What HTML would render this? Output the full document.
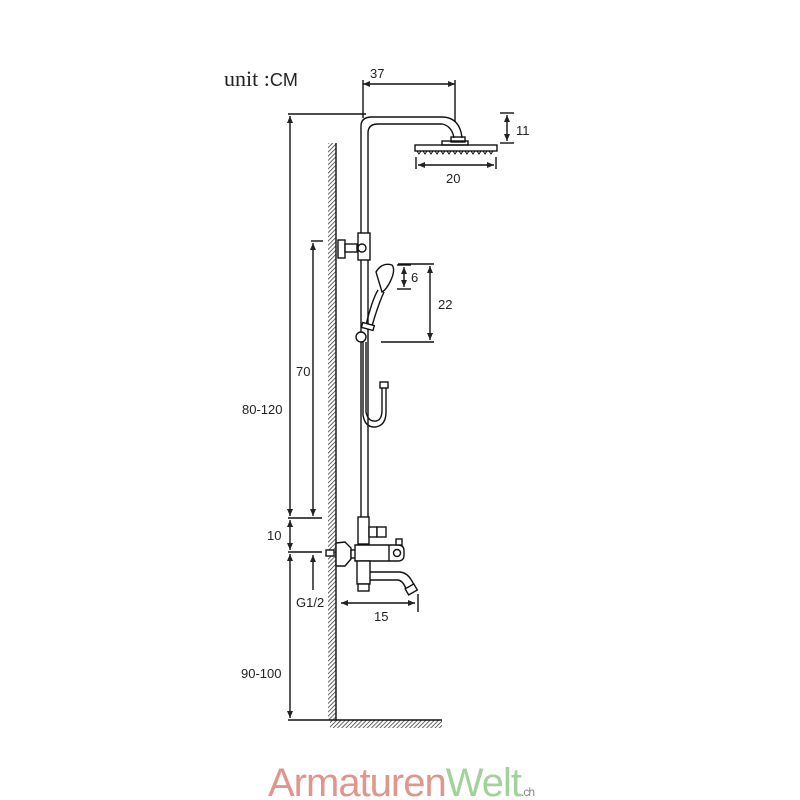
<!DOCTYPE html>
<html><head><meta charset="utf-8"><style>
body{margin:0;background:#fff;width:800px;height:800px;overflow:hidden}
svg{display:block}
text{font-family:"Liberation Sans","DejaVu Sans",sans-serif;fill:#222}
</style></head><body>
<svg width="800" height="800" viewBox="0 0 800 800" xmlns="http://www.w3.org/2000/svg">
<defs>
<pattern id="h" width="3" height="3" patternUnits="userSpaceOnUse" patternTransform="rotate(45)">
<rect width="3" height="3" fill="#fff"/><line x1="0" y1="0" x2="0" y2="3" stroke="#333" stroke-width="1.5"/></pattern>
<marker id="a" markerWidth="8" markerHeight="8" refX="7" refY="4" orient="auto-start-reverse" markerUnits="userSpaceOnUse"><path d="M0,1 L7,4 L0,7 Z" fill="#222"/></marker>
</defs>
<g stroke="#111" fill="none" stroke-width="1.4">
<rect x="328" y="143" width="8" height="577" fill="url(#h)" stroke="none"/>
<line x1="336" y1="143" x2="336" y2="720"/>
<rect x="330" y="720" width="112" height="8" fill="url(#h)" stroke="none"/>
<line x1="288" y1="720" x2="442" y2="720"/>
<line x1="363" y1="84" x2="455" y2="84" marker-start="url(#a)" marker-end="url(#a)"/>
<line x1="363" y1="80" x2="363" y2="118"/>
<line x1="455" y1="80" x2="455" y2="122"/>
<line x1="288" y1="114" x2="366" y2="114"/>
<path d="M361,525 L361,126 Q361,117 372,117 L443,117 Q460,118 462,138"/>
<path d="M368,525 L368,133 Q368,124 378,124 L442,124 Q452,126 454,138"/>
<rect x="451" y="137" width="14" height="5"/>
<rect x="442" y="141" width="26" height="4"/>
<rect x="415" y="145" width="82" height="6"/>
<path d="M417,151 l2,3 l2,-3 m2,0 l2,3 l2,-3 m2,0 l2,3 l2,-3 m2,0 l2,3 l2,-3 m2,0 l2,3 l2,-3 m2,0 l2,3 l2,-3 m2,0 l2,3 l2,-3 m2,0 l2,3 l2,-3 m2,0 l2,3 l2,-3 m2,0 l2,3 l2,-3 m2,0 l2,3 l2,-3 m2,0 l2,3 l2,-3 m2,0 l2,3 l2,-3" stroke-width="1"/>
<line x1="500" y1="113" x2="514" y2="113"/><line x1="500" y1="143" x2="514" y2="143"/>
<line x1="507" y1="115" x2="507" y2="141" marker-start="url(#a)" marker-end="url(#a)"/>
<line x1="416" y1="157" x2="416" y2="169"/><line x1="496" y1="157" x2="496" y2="169"/>
<line x1="418" y1="165" x2="494" y2="165" marker-start="url(#a)" marker-end="url(#a)"/>
<line x1="290" y1="116" x2="290" y2="516" marker-start="url(#a)" marker-end="url(#a)"/>
<line x1="311" y1="241" x2="323" y2="241"/>
<line x1="313" y1="243" x2="313" y2="516" marker-start="url(#a)" marker-end="url(#a)"/>
<line x1="288" y1="518" x2="322" y2="518"/>
<line x1="290" y1="520" x2="290" y2="550" marker-start="url(#a)" marker-end="url(#a)"/>
<line x1="288" y1="552" x2="322" y2="552"/>
<line x1="290" y1="554" x2="290" y2="718" marker-start="url(#a)" marker-end="url(#a)"/>
<line x1="313" y1="590" x2="313" y2="555" marker-end="url(#a)"/>
<rect x="338" y="240" width="7" height="18" fill="#fff"/>
<rect x="345" y="244" width="12" height="8" fill="#fff"/>
<rect x="358" y="233" width="12" height="27" fill="#fff"/>
<circle cx="362" cy="248" r="4" fill="#fff"/>
<path d="M376,272 Q382,262 392,265 Q396,270 390,282 Q386,290 382,292 Z" fill="#fff"/>
<path d="M378,290 Q372,300 366,325 M384,292 Q378,305 372,326"/>
<rect x="362" y="324" width="12" height="5" transform="rotate(15 368 326)" fill="#fff"/>
<circle cx="361" cy="337" r="5" fill="#fff"/>
<path d="M363,342 L363,415 Q365,428 376,427 Q386,425 386,412 L386,388"/>
<path d="M366,342 L366,412 Q368,422 376,421 Q382,420 382,410 L382,388"/>
<rect x="380" y="382" width="8" height="6" fill="#fff"/>
<line x1="397" y1="265" x2="411" y2="265"/><line x1="397" y1="289" x2="411" y2="289"/>
<line x1="404" y1="267" x2="404" y2="287" marker-start="url(#a)" marker-end="url(#a)"/>
<line x1="398" y1="264" x2="434" y2="264"/><line x1="381" y1="342" x2="434" y2="342"/>
<line x1="430" y1="266" x2="430" y2="340" marker-start="url(#a)" marker-end="url(#a)"/>
<rect x="358" y="517" width="11" height="27" fill="#fff"/>
<rect x="369" y="527" width="8" height="10" fill="#fff"/>
<rect x="377" y="527" width="9" height="10" fill="#fff"/>
<rect x="326" y="550" width="8" height="6" fill="#fff"/>
<path d="M336,543 L345,542 L351,548 L351,559 L345,566 L336,566 Z" fill="#fff"/>
<rect x="351" y="550" width="5" height="8" fill="#fff"/>
<path d="M355,545 L398,545 Q404,545 404,551 L404,555 Q404,561 398,561 L355,561 Z" fill="#fff"/>
<line x1="389" y1="545" x2="389" y2="561"/>
<circle cx="397" cy="553" r="3.5"/>
<rect x="396" y="539" width="6" height="6" fill="#fff"/>
<rect x="357" y="561" width="13" height="23" fill="#fff"/>
<rect x="358" y="584" width="11" height="7" fill="#fff"/>
<path d="M370,572 L400,572 Q410,573 415,588 M370,580 L398,580 Q404,581 407,592"/>
<rect x="406" y="586" width="10" height="7" transform="rotate(-30 411 589)" fill="#fff"/>
<line x1="341" y1="603" x2="415" y2="603" marker-start="url(#a)" marker-end="url(#a)"/>
<line x1="418" y1="594" x2="418" y2="612"/>
</g>
<text x="224" y="86" font-size="22" style="font-family:'Liberation Serif',serif">unit :<tspan style="font-family:'Liberation Sans',sans-serif" font-size="18">CM</tspan></text>
<text x="370" y="78" font-size="13">37</text>
<text x="516" y="135" font-size="13">11</text>
<text x="446" y="183" font-size="13">20</text>
<text x="411" y="282" font-size="13">6</text>
<text x="438" y="309" font-size="13">22</text>
<text x="296" y="376" font-size="13">70</text>
<text x="242" y="414" font-size="13">80-120</text>
<text x="267" y="540" font-size="13">10</text>
<text x="296" y="607" font-size="13">G1/2</text>
<text x="374" y="621" font-size="13">15</text>
<text x="241" y="678" font-size="13">90-100</text>
<text x="268" y="796" font-size="40" style="fill:#e0968c" letter-spacing="-1">Armaturen<tspan style="fill:#a3d19c">Welt</tspan><tspan font-size="12" style="fill:#888">.ch</tspan></text>
</svg>
</body></html>
